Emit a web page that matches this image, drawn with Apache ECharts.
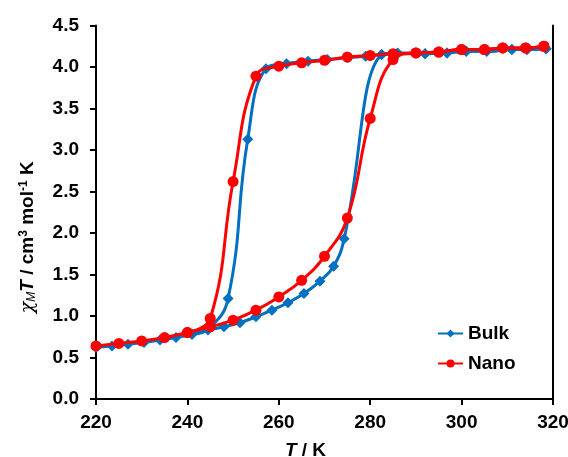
<!DOCTYPE html>
<html>
<head>
<meta charset="utf-8">
<script src="https://cdn.jsdelivr.net/npm/echarts@6/dist/echarts.min.js"></script>
<style>
html,body{margin:0;padding:0;background:#fff;}
#chart{width:568px;height:457px;}
</style>
</head>
<body>
<div id="chart"></div>
<script>
// Tick labels
var xTicks = [220, 240, 260, 280, 300, 320];
var yTicks = [0.0, 0.5, 1.0, 1.5, 2.0, 2.5, 3.0, 3.5, 4.0, 4.5];

// Bulk: heating branch
var bulkHeatT = [220, 223.5, 227, 230.5, 234, 237.5, 241, 244.5, 248, 251.5, 255, 258.5, 262, 265.5, 269, 272, 274.3, 282.5, 286, 292, 296.8, 301, 305.5, 311, 314.3, 318.5];
var bulkHeatV = [0.62, 0.64, 0.66, 0.68, 0.71, 0.74, 0.78, 0.83, 0.87, 0.92, 0.99, 1.07, 1.16, 1.27, 1.42, 1.60, 1.93, 4.15, 4.17, 4.16, 4.17, 4.19, 4.19, 4.21, 4.21, 4.22];
// Bulk: cooling branch
var bulkCoolT = [318.5, 314.3, 311, 305.5, 301, 296.8, 292, 286, 282.5, 279, 275, 270.6, 266.4, 261.7, 257.2, 253.2, 248.9, 244.5, 241];
var bulkCoolV = [4.22, 4.21, 4.21, 4.19, 4.19, 4.17, 4.16, 4.16, 4.15, 4.13, 4.11, 4.09, 4.07, 4.04, 3.98, 3.13, 1.21, 0.84, 0.78];

// Nano: heating branch
var nanoHeatT = [220, 225, 230, 235, 240, 245, 250, 255, 260, 265, 270, 275, 280, 285, 290, 295, 300, 305, 309, 314, 318];
var nanoHeatV = [0.64, 0.67, 0.70, 0.74, 0.80, 0.87, 0.95, 1.07, 1.23, 1.43, 1.72, 2.18, 3.38, 4.09, 4.17, 4.18, 4.21, 4.21, 4.23, 4.23, 4.25];
// Nano: cooling branch
var nanoCoolT = [318, 314, 309, 305, 300, 295, 290, 285, 280, 275, 270, 265, 260, 255, 250, 245, 240];
var nanoCoolV = [4.25, 4.23, 4.23, 4.21, 4.21, 4.18, 4.17, 4.16, 4.14, 4.12, 4.08, 4.05, 4.01, 3.89, 2.62, 0.97, 0.80];

function pairs(t, v) { return t.map(function (x, i) { return [x, v[i]]; }); }

var BLUE = '#0070C0', RED = '#FF0000';
var FONT = 'Liberation Sans';
var FS = 19;

function mkSeries(name, t, v, color, symbol, size) {
  return {
    name: name, type: 'line', smooth: 0.45,
    data: pairs(t, v),
    symbol: symbol, symbolSize: size,
    lineStyle: { color: color, width: 3 },
    itemStyle: { color: color },
    emphasis: { disabled: true },
    z: name === 'Nano' ? 3 : 2
  };
}

var chart = echarts.init(document.getElementById('chart'), null, { renderer: 'canvas' });
chart.setOption({
  animation: false,
  backgroundColor: '#fff',
  textStyle: { fontFamily: FONT },
  grid: { left: 96, right: 15, top: 25.5, bottom: 58, containLabel: false, outerBoundsMode: 'none' },
  legend: {
    data: ['Bulk', 'Nano'],
    orient: 'vertical',
    left: 432, top: 319,
    itemGap: 11,
    itemWidth: 25, itemHeight: 10,
    textStyle: { fontFamily: FONT, fontWeight: 'bold', fontSize: FS, color: '#000' }
  },
  xAxis: {
    type: 'value', min: xTicks[0], max: xTicks[xTicks.length - 1], interval: 20,
    splitLine: { show: false },
    axisLine: { lineStyle: { color: '#000', width: 2 } },
    axisTick: { inside: false, length: 6, lineStyle: { color: '#000', width: 2 } },
    axisLabel: { margin: 14, color: '#000', fontFamily: FONT, fontWeight: 'bold', fontSize: FS },
    name: '{i|T}{b| / K}',
    nameLocation: 'middle', nameGap: 42,
    nameTextStyle: {
      padding: [0, 38, 0, 0],
      rich: {
        i: { fontFamily: FONT, fontWeight: 'bold', fontStyle: 'italic', fontSize: FS, color: '#000' },
        b: { fontFamily: FONT, fontWeight: 'bold', fontSize: FS, color: '#000' }
      }
    }
  },
  yAxis: [{
    type: 'value', min: yTicks[0], max: yTicks[yTicks.length - 1], interval: 0.5,
    splitLine: { show: false },
    axisLine: { show: true, lineStyle: { color: '#000', width: 2 } },
    axisTick: { show: true, inside: false, length: 6, lineStyle: { color: '#000', width: 2 } },
    axisLabel: { margin: 17, color: '#000', fontFamily: FONT, fontWeight: 'bold', fontSize: FS,
      formatter: function (v) { return v.toFixed(1); } },
    name: '{chi|χ}{sub|M}{i|T}{b| / cm}{sup|3}{b| mol}{sup|-1}{b| K}',
    nameLocation: 'middle', nameGap: 58, nameRotate: 90,
    nameTextStyle: {
      padding: [0, 50, 0, 0],
      rich: {
        chi: { fontFamily: 'DejaVu Serif', fontStyle: 'italic', fontSize: FS, color: '#000' },
        sub: { fontFamily: FONT, fontStyle: 'italic', fontSize: 12, color: '#000', verticalAlign: 'bottom', padding: [8, 0, 0, 0] },
        i: { fontFamily: FONT, fontWeight: 'bold', fontStyle: 'italic', fontSize: FS, color: '#000' },
        b: { fontFamily: FONT, fontWeight: 'bold', fontSize: FS, color: '#000' },
        sup: { fontFamily: FONT, fontWeight: 'bold', fontSize: 12, color: '#000', verticalAlign: 'top', padding: [0, 0, 8, 0] }
      }
    }
  }, {
    type: 'value', min: yTicks[0], max: yTicks[yTicks.length - 1], interval: 0.5, position: 'right',
    splitLine: { show: false },
    axisLine: { show: true, lineStyle: { color: '#000', width: 2 } },
    axisTick: { show: false }, axisLabel: { show: false }
  }],
  series: [
    mkSeries('Bulk', bulkHeatT, bulkHeatV, BLUE, 'diamond', 11),
    mkSeries('Bulk', bulkCoolT, bulkCoolV, BLUE, 'diamond', 11),
    mkSeries('Nano', nanoHeatT, nanoHeatV, RED, 'circle', 11),
    mkSeries('Nano', nanoCoolT, nanoCoolV, RED, 'circle', 11)
  ]
});
</script>
</body>
</html>
